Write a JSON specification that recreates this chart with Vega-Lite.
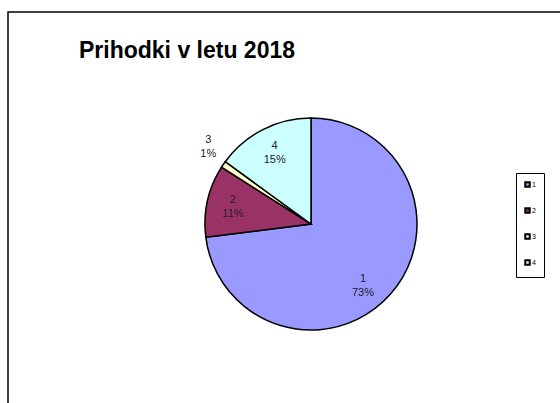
{
  "$schema": "https://vega.github.io/schema/vega-lite/v6.json",
  "width": 606,
  "height": 424,
  "autosize": {"type": "none"},
  "padding": {"left": 8, "top": 12, "right": 0, "bottom": 0},
  "background": "white",
  "view": {"stroke": "black", "strokeWidth": 1.5, "fill": "white"},
  "config": {
    "view": {"stroke": "black", "strokeWidth": 1.5},
    "font": "Liberation Sans"
  },
  "title": {
    "text": "Prihodki v letu 2018",
    "anchor": "start",
    "frame": "group",
    "font": "Liberation Sans",
    "fontSize": 23,
    "fontWeight": "bold",
    "color": "black",
    "baseline": "alphabetic",
    "offset": 0,
    "dx": 71,
    "dy": 69
  },
  "data": {
    "values": [
      {"cat": "1", "value": 73, "pct": "73%"},
      {"cat": "2", "value": 11, "pct": "11%"},
      {"cat": "3", "value": 1, "pct": "1%"},
      {"cat": "4", "value": 15, "pct": "15%"}
    ]
  },
  "encoding": {
    "theta": {"field": "value", "type": "quantitative", "stack": true},
    "order": {"field": "cat", "type": "ordinal", "sort": "ascending"}
  },
  "layer": [
    {
      "mark": {"type": "arc", "outerRadius": 106, "stroke": "black", "strokeWidth": 1.5},
      "encoding": {
        "color": {
          "field": "cat",
          "type": "nominal",
          "scale": {"domain": ["1", "2", "3", "4"], "range": ["#9999FF", "#993366", "#FFFFCC", "#CCFFFF"]},
          "legend": {
            "title": null,
            "orient": "none",
            "legendX": 508,
            "legendY": 161,
            "strokeColor": "black",
            "padding": 8,
            "symbolType": "square",
            "symbolSize": 20,
            "symbolStrokeColor": "black",
            "symbolStrokeWidth": 2,
            "labelFontSize": 7,
            "labelFont": "Liberation Sans",
            "labelColor": "black",
            "labelOffset": 1,
            "rowPadding": 13
          }
        }
      }
    },
    {
      "mark": {"type": "text", "radius": 80, "dy": -7, "fontSize": 11, "font": "Liberation Sans", "color": "#222"},
      "encoding": {"text": {"condition": {"test": "datum.cat == '1' || datum.cat == '3'", "value": ""}, "field": "cat"}}
    },
    {
      "mark": {"type": "text", "radius": 80, "dy": 7, "fontSize": 11, "font": "Liberation Sans", "color": "#222"},
      "encoding": {"text": {"condition": {"test": "datum.cat == '1' || datum.cat == '3'", "value": ""}, "field": "pct"}}
    },
    {
      "mark": {"type": "text", "radius": 80, "dx": -8, "dy": 2, "fontSize": 11, "font": "Liberation Sans", "color": "#222"},
      "encoding": {"text": {"condition": {"test": "datum.cat != '1'", "value": ""}, "field": "cat"}}
    },
    {
      "mark": {"type": "text", "radius": 80, "dx": -8, "dy": 16, "fontSize": 11, "font": "Liberation Sans", "color": "#222"},
      "encoding": {"text": {"condition": {"test": "datum.cat != '1'", "value": ""}, "field": "pct"}}
    },
    {
      "mark": {"type": "text", "radius": 129, "dx": 4, "dy": -11, "fontSize": 11, "font": "Liberation Sans", "color": "#222"},
      "encoding": {"text": {"condition": {"test": "datum.cat != '3'", "value": ""}, "field": "cat"}}
    },
    {
      "mark": {"type": "text", "radius": 129, "dx": 4, "dy": 3, "fontSize": 11, "font": "Liberation Sans", "color": "#222"},
      "encoding": {"text": {"condition": {"test": "datum.cat != '3'", "value": ""}, "field": "pct"}}
    }
  ]
}
